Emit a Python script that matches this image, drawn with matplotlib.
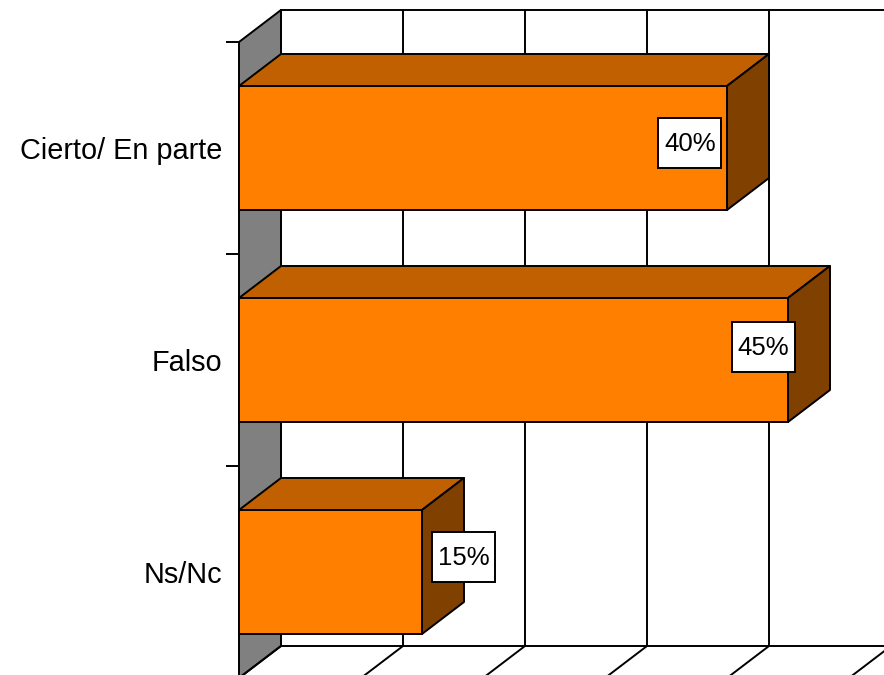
import matplotlib
matplotlib.use("Agg")
import matplotlib.pyplot as plt
from matplotlib.patches import Rectangle

# Data
categories = ["Cierto/ En parte", "Falso", "Ns/Nc"]
values = [40, 45, 15]
value_labels = ["40%", "45%", "15%"]
grid_ticks = [0, 10, 20, 30, 40, 50]

# Styles / layout
FRONT, TOP, SIDE, WALL = "#FF8000", "#C06000", "#804000", "#808080"
LW = 1.4
W, H = 884, 675
PX_X = 12.2      # pixels per percent
PX_Y = 212.0     # pixels per category
DX = 42 / PX_X   # 3D depth in data units
DY = 32 / PX_Y
BAR_H = 124 / PX_Y
label_dx = [-37 / PX_X, -24.5 / PX_X, 41.5 / PX_X]
label_dy = [-5 / PX_Y, -13 / PX_Y, -15 / PX_Y]
BOX_W, BOX_H = 63 / PX_X, 50 / PX_Y
TEXT_UP = 1.5 / PX_Y

plt.rcParams["font.family"] = ["Liberation Sans", "DejaVu Sans"]
fig = plt.figure(figsize=(W / 100, H / 100), dpi=100, facecolor="white")
ax = fig.add_axes([239 / W, 0, 1 - 239 / W, 1])
ax.set_xlim(0, (W - 239) / PX_X)
ax.set_ylim((675 - 148) / PX_Y, -148 / PX_Y)
ax.patch.set_visible(False)
for s in ax.spines.values():
    s.set_visible(False)

y_front_top, y_front_bot = -0.5, 2.5
line = dict(color="black", lw=LW, zorder=2, solid_capstyle="projecting")

# Side wall
ax.fill([0, DX, DX, 0],
        [y_front_bot, y_front_bot - DY, y_front_top - DY, y_front_top],
        facecolor=WALL, edgecolor="black", lw=LW, zorder=1, clip_on=False)

# Back wall grid, floor diagonals
for t in grid_ticks:
    ax.plot([t + DX, t + DX], [y_front_top - DY, y_front_bot - DY], **line)
    ax.plot([t + DX, t], [y_front_bot - DY, y_front_bot], **line)
ax.plot([DX, ax.get_xlim()[1]], [y_front_top - DY] * 2, **line)
ax.plot([DX, ax.get_xlim()[1]], [y_front_bot - DY] * 2, **line)

# Bars
ypos = list(range(len(categories)))
for y, v in zip(ypos, values):
    top, bot = y - BAR_H / 2, y + BAR_H / 2
    ax.fill([0, DX, v + DX, v], [top, top - DY, top - DY, top],
            facecolor=TOP, edgecolor="black", lw=LW, zorder=3, joinstyle="round")
    ax.fill([v, v + DX, v + DX, v], [top, top - DY, bot - DY, bot],
            facecolor=SIDE, edgecolor="black", lw=LW, zorder=3, joinstyle="round")
ax.barh(ypos, values, height=BAR_H, color=FRONT, edgecolor="black", linewidth=LW,
        zorder=4, clip_on=False)

# Value labels
for y, v, lab, ddx, ddy in zip(ypos, values, value_labels, label_dx, label_dy):
    cx, cy = v + ddx, y + ddy
    ax.add_patch(Rectangle((cx - BOX_W / 2, cy - BOX_H / 2), BOX_W, BOX_H,
                           facecolor="white", edgecolor="black", lw=LW, zorder=5))
    ax.text(cx, cy - TEXT_UP, lab, ha="center", va="center_baseline", fontsize=18.5,
            color="black", zorder=6)

# Category axis
ax.set_xticks([])
ax.set_yticks([i - 0.5 for i in ypos])
ax.set_yticklabels([])
ax.set_yticks(ypos, minor=True)
ax.set_yticklabels(categories, minor=True, fontsize=20.8)
ax.tick_params(axis="y", which="major", length=9.4, width=LW, color="black", left=True)
ax.tick_params(axis="y", which="minor", length=0, pad=12.2)
for lbl in ax.get_yticklabels(minor=True):
    lbl.set_clip_on(False)

fig.savefig("out.png", dpi=100, facecolor="white")
